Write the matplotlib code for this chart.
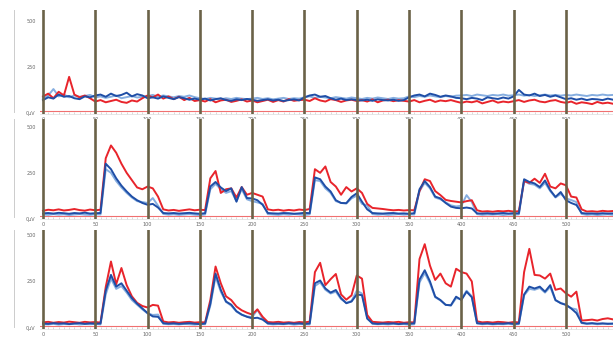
import matplotlib.pyplot as plt
from matplotlib.lines import Line2D
from matplotlib.ticker import MultipleLocator

# time axis (one sample every 5 units)
t = list(range(0, 550, 5))
vline_pos = [0, 50, 100, 150, 200, 250, 300, 350, 400, 450, 500]
x_labels = ['0', '50', '100', '150', '200', '250', '300', '350', '400', '450', '500']
y_ticks = [0, 250, 500]
y_labels = ['0µV', '250', '500']
threshold = 12

# panel 1 (resting)
top_red = [90, 105, 80, 115, 95, 196, 100, 85, 95, 80,
           62, 70, 58, 65, 72, 60, 55, 68, 62, 80,
           95, 85, 100, 78, 90, 75, 88, 70, 82, 65,
           70, 62, 75, 58, 68, 72, 60, 66, 74, 62,
           68, 58, 65, 72, 60, 70, 62, 75, 66, 70,
           72, 65, 80, 68, 62, 75, 70, 60, 68, 72,
           65, 70, 62, 74, 58, 68, 72, 64, 70, 66,
           62, 70, 58, 66, 72, 60, 68, 64, 70, 62,
           55, 62, 58, 65, 52, 60, 68, 56, 62, 58,
           64, 70, 60, 68, 72, 62, 58, 66, 70, 60,
           55, 62, 50, 58, 54, 48, 60, 52, 56, 50]
top_blue = [70, 85, 78, 100, 88, 92, 80, 75, 90, 85,
            95, 100, 88, 105, 92, 98, 110, 90, 102, 95,
            80, 85, 78, 90, 82, 75, 86, 80, 72, 78,
            72, 78, 68, 75, 80, 70, 66, 74, 70, 76,
            72, 66, 70, 74, 68, 72, 65, 70, 74, 68,
            85, 95, 100, 88, 92, 80, 72, 78, 70, 74,
            70, 68, 72, 66, 74, 70, 68, 72, 66, 70,
            85, 95, 100, 90, 105, 98, 88, 95, 90, 82,
            80, 75, 82, 78, 70, 85, 80, 76, 84, 78,
            90, 125, 100, 95, 105, 92, 98, 88, 95, 85,
            75, 80, 72, 78, 70, 76, 74, 70, 78, 72]
top_light = [80, 95, 130, 90, 100, 85, 95, 88, 92, 98,
             85, 90, 82, 88, 95, 80, 86, 92, 84, 88,
             92, 98, 88, 95, 90, 85, 92, 88, 95, 86,
             80, 76, 82, 78, 74, 80, 76, 82, 78, 75,
             78, 82, 76, 80, 74, 78, 82, 76, 80, 78,
             85, 90, 82, 88, 84, 80, 86, 82, 78, 84,
             80, 76, 82, 78, 84, 80, 76, 82, 78, 80,
             90, 86, 92, 88, 95, 90, 86, 92, 88, 94,
             95, 98, 92, 100, 96, 92, 98, 95, 100, 94,
             96, 100, 94, 98, 92, 96, 100, 95, 98, 94,
             98, 95, 100, 96, 92, 98, 95, 100, 96, 98]

# panel 2
mid_red = [42, 48, 45, 50, 44, 47, 52, 46, 43, 49,
           45, 48, 330, 400, 360, 300, 250, 210, 170, 160,
           175, 165, 120, 50, 44, 47, 42, 46, 50, 45,
           48, 46, 220, 260, 140, 160, 165, 115, 172, 130,
           140, 130, 120, 50, 45, 48, 43, 47, 44, 49,
           46, 52, 270, 250, 285, 200, 175, 130, 172, 148,
           165, 140, 80, 58, 55, 52, 48, 45, 47, 44,
           46, 45, 150, 215, 205, 150, 128, 102, 96, 92,
           88, 95, 100, 45, 38, 40, 37, 41, 39, 42,
           38, 40, 205, 195, 218, 195, 245, 175, 165, 192,
           182, 120, 115, 50, 38, 40, 37, 42, 39, 41]
mid_blue = [28, 30, 27, 31, 29, 26, 30, 28, 32, 27,
            29, 30, 300, 270, 220, 180, 148, 120, 100, 85,
            75, 80, 60, 30, 28, 30, 27, 29, 31, 28,
            26, 29, 175, 200, 170, 150, 165, 92, 172, 112,
            110, 100, 75, 30, 28, 27, 30, 29, 26, 28,
            31, 29, 225, 215, 175, 148, 100, 85, 84, 118,
            138, 92, 50, 30, 28, 27, 29, 30, 27, 28,
            26, 29, 160, 205, 172, 120, 110, 85, 65, 58,
            56, 60, 55, 28, 27, 29, 26, 28, 30, 27,
            29, 28, 215, 200, 192, 172, 208, 155, 118, 145,
            100, 85, 74, 30, 27, 28, 26, 29, 27, 28]
mid_light = [22, 20, 24, 21, 23, 19, 22, 24, 21, 20,
             23, 22, 270, 250, 205, 170, 140, 115, 95, 90,
             85, 112, 70, 25, 21, 23, 20, 22, 24, 21,
             19, 22, 160, 190, 160, 140, 150, 95, 160, 105,
             95, 88, 80, 24, 22, 20, 23, 21, 24, 22,
             19, 23, 210, 205, 165, 140, 95, 85, 82, 110,
             125, 80, 72, 24, 21, 23, 20, 22, 24, 21,
             23, 22, 150, 195, 165, 115, 105, 88, 72, 66,
             70, 128, 90, 24, 20, 22, 21, 23, 19, 22,
             21, 23, 205, 190, 185, 165, 195, 150, 115, 135,
             110, 101, 90, 25, 20, 22, 19, 21, 23, 20]

# panel 3
bot_red = [30, 33, 28, 32, 29, 34, 31, 28, 33, 30,
           32, 29, 220, 357, 235, 322, 230, 170, 135, 118,
           110, 124, 120, 35, 30, 32, 28, 31, 33, 29,
           31, 30, 150, 330, 240, 170, 150, 115, 95, 82,
           72, 100, 60, 32, 30, 33, 29, 31, 28, 32,
           30, 34, 300, 350, 230, 262, 290, 180, 152, 175,
           282, 265, 70, 33, 31, 29, 32, 30, 33, 28,
           31, 30, 370, 450, 335, 258, 292, 240, 222, 318,
           300, 292, 250, 36, 30, 32, 29, 33, 31, 28,
           32, 30, 300, 425, 285, 282, 265, 292, 205, 212,
           186, 168, 195, 40, 42, 45, 40, 48, 52, 46]
bot_blue = [24, 22, 26, 23, 25, 21, 24, 26, 22, 25,
            23, 24, 200, 285, 222, 240, 200, 160, 130, 105,
            80, 62, 60, 26, 23, 25, 22, 24, 26, 23,
            21, 24, 130, 292, 205, 142, 125, 90, 72, 60,
            52, 55, 45, 25, 23, 24, 22, 26, 23, 25,
            22, 24, 240, 255, 212, 190, 204, 160, 133, 142,
            180, 176, 50, 25, 22, 24, 23, 25, 21, 24,
            23, 25, 260, 310, 250, 168, 150, 124, 122, 168,
            150, 195, 165, 26, 23, 25, 22, 24, 23, 26,
            22, 24, 180, 222, 212, 222, 195, 230, 150, 133,
            124, 105, 80, 28, 24, 26, 23, 25, 22, 24]
bot_light = [20, 19, 22, 18, 21, 20, 23, 19, 21, 20,
             22, 19, 180, 265, 210, 225, 190, 150, 125, 100,
             78, 70, 72, 22, 20, 21, 19, 22, 20, 18,
             21, 20, 120, 275, 195, 140, 120, 88, 70, 62,
             58, 98, 50, 22, 19, 21, 20, 22, 18, 21,
             20, 19, 225, 245, 205, 185, 195, 155, 135, 145,
             200, 185, 55, 22, 20, 21, 19, 22, 20, 21,
             18, 20, 245, 295, 240, 165, 148, 125, 120, 160,
             155, 200, 170, 24, 20, 22, 19, 21, 20, 22,
             19, 21, 175, 210, 205, 215, 190, 220, 148, 135,
             125, 106, 100, 26, 21, 23, 20, 22, 24, 21]

panels = [
    (top_light, top_red, top_blue),
    (mid_light, mid_red, mid_blue),
    (bot_light, bot_red, bot_blue),
]

# 各面板位置 (left, bottom, width, height) / y 範圍
axes_pos = [
    [0.065, 0.662, 0.935, 0.309],
    [0.065, 0.350, 0.935, 0.297],
    [0.065, 0.024, 0.935, 0.294],
]
y_limits = [(-5, 560), (-3, 545), (-5, 527)]

fig = plt.figure(figsize=(6.13, 3.37), dpi=100)

for i, (light, red, blue) in enumerate(panels):
    ax = fig.add_axes(axes_pos[i])

    # 訊號線
    ax.plot(t, light, color='#86aee0', lw=1.4, zorder=3)
    ax.plot(t, red, color='#e8242b', lw=1.4, zorder=4)
    ax.plot(t, blue, color='#1f4ea6', lw=1.4, zorder=5)

    # 門檻線
    ax.axhline(threshold, color='#f07070', lw=0.8, zorder=2)

    # 每 50 一條的垂直標記線
    for v in vline_pos:
        ax.axvline(v, color='#6b6248', lw=1.9, zorder=6)

    ax.set_xlim(-3, 545)
    ax.set_ylim(*y_limits[i])

    # 刻度
    ax.set_xticks(vline_pos)
    ax.set_xticklabels(x_labels, fontsize=3.5, color='#666666')
    ax.xaxis.set_minor_locator(MultipleLocator(5))
    ax.tick_params(axis='x', which='major', length=0, pad=2)
    ax.tick_params(axis='x', which='minor', length=1.5, width=0.4,
                   color='#bbbbbb', direction='in')
    ax.set_yticks(y_ticks)
    ax.set_yticklabels(y_labels, fontsize=3.5, color='#666666')
    ax.tick_params(axis='y', length=0, pad=3)

    for side in ['top', 'right', 'left']:
        ax.spines[side].set_visible(False)
    ax.spines['bottom'].set_color('#dddddd')
    ax.spines['bottom'].set_linewidth(0.5)

    # 左側灰色框線
    x0, y0, w, h = axes_pos[i]
    fig.add_artist(Line2D([0.023, 0.023], [y0 + 0.005, y0 + h],
                          color='#cccccc', lw=0.7))

plt.savefig('out.png', dpi=100)
